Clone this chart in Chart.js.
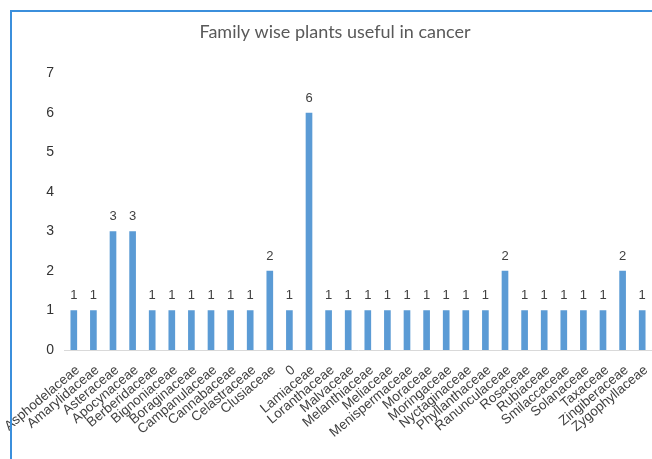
<!DOCTYPE html>
<html lang="en">
<head>
    <meta charset="UTF-8">
    <title>Family wise plants useful in cancer</title>
    <script src="https://cdn.jsdelivr.net/npm/chart.js"></script>
    <style>
        body { margin: 0; background: #fff; }
        #wrap { position: relative; width: 652px; height: 459px; overflow: hidden; }
        #chart { position: absolute; left: 0; top: 0; }
        #frame { position: absolute; left: 10px; top: 10px; width: 660px; height: 470px;
                 border-left: 2px solid #3b8fdc; border-top: 2px solid #3b8fdc; pointer-events: none; }
    </style>
</head>
<body>
    <div id="wrap">
        <canvas id="chart" width="652" height="459"></canvas>
        <div id="frame"></div>
    </div>

    <script>
        const families = [
            'Asphodelaceae', 'Amarylidaceae', 'Asteraceae', 'Apocynaceae', 'Berberidaceae',
            'Bignoniaceae', 'Boraginaceae', 'Campanulaceae', 'Cannabaceae', 'Celastraceae',
            'Clusiaceae', '0', 'Lamiaceae', 'Loranthaceae', 'Malvaceae',
            'Melanthiaceae', 'Meliaceae', 'Menispermaceae', 'Moraceae', 'Moringaceae',
            'Nyctaginaceae', 'Phyllanthaceae', 'Ranunculaceae', 'Rosaceae', 'Rubiaceae',
            'Smilaccaceae', 'Solanaceae', 'Taxaceae', 'Zingiberaceae', 'Zygophyllaceae'
        ];
        const plantCounts = [
            1, 1, 3, 3, 1,
            1, 1, 1, 1, 1,
            2, 1, 6, 1, 1,
            1, 1, 1, 1, 1,
            1, 1, 2, 1, 1,
            1, 1, 1, 2, 1
        ];
        const yTicks = [0, 1, 2, 3, 4, 5, 6, 7];

        const labelFont = '"Liberation Sans", Arial, sans-serif';

        // simple value labels above the bars
        const barLabels = {
            id: 'barLabels',
            afterDatasetsDraw(chart) {
                const ctx = chart.ctx;
                const meta = chart.getDatasetMeta(0);
                ctx.save();
                ctx.font = '13px ' + labelFont;
                ctx.fillStyle = '#404040';
                ctx.textAlign = 'center';
                ctx.textBaseline = 'middle';
                meta.data.forEach((bar, i) => {
                    ctx.fillText(String(plantCounts[i]), bar.x, bar.y - 15);
                });
                ctx.restore();
            }
        };

        new Chart(document.getElementById('chart'), {
            type: 'bar',
            data: {
                labels: families,
                datasets: [{
                    data: plantCounts,
                    backgroundColor: '#5b9bd5',
                    barThickness: 6
                }]
            },
            options: {
                responsive: false,
                animation: false,
                layout: { padding: { left: 18, right: 0, top: 0, bottom: 0 } },
                plugins: {
                    legend: { display: false },
                    tooltip: { enabled: false },
                    title: {
                        display: true,
                        text: 'Family wise plants useful in cancer',
                        color: '#595959',
                        font: { family: 'Lato', size: 18, weight: 'normal' },
                        padding: { top: 21, bottom: 31 }
                    }
                },
                scales: {
                    x: {
                        grid: { display: false, drawTicks: false },
                        border: { display: true, color: '#d9d9d9', width: 1 },
                        ticks: {
                            autoSkip: false,
                            minRotation: 40,
                            maxRotation: 40,
                            padding: 12,
                            labelOffset: 4,
                            color: '#404040',
                            font: { family: labelFont, size: 13.5 }
                        },
                        afterFit(scale) {
                            scale.height = 109;
                            scale.paddingLeft = 0;
                            scale.paddingRight = 0;
                        }
                    },
                    y: {
                        min: 0,
                        max: 7,
                        afterBuildTicks(scale) { scale.ticks = yTicks.map(v => ({ value: v })); },
                        grid: { display: false, drawTicks: false },
                        border: { display: false },
                        ticks: {
                            padding: 10,
                            color: '#333333',
                            font: { family: labelFont, size: 14 }
                        },
                        afterFit(scale) {
                            scale.width = 46;
                            scale.paddingTop = 0;
                            scale.paddingBottom = 0;
                        }
                    }
                }
            },
            plugins: [barLabels]
        });
    </script>
</body>
</html>
